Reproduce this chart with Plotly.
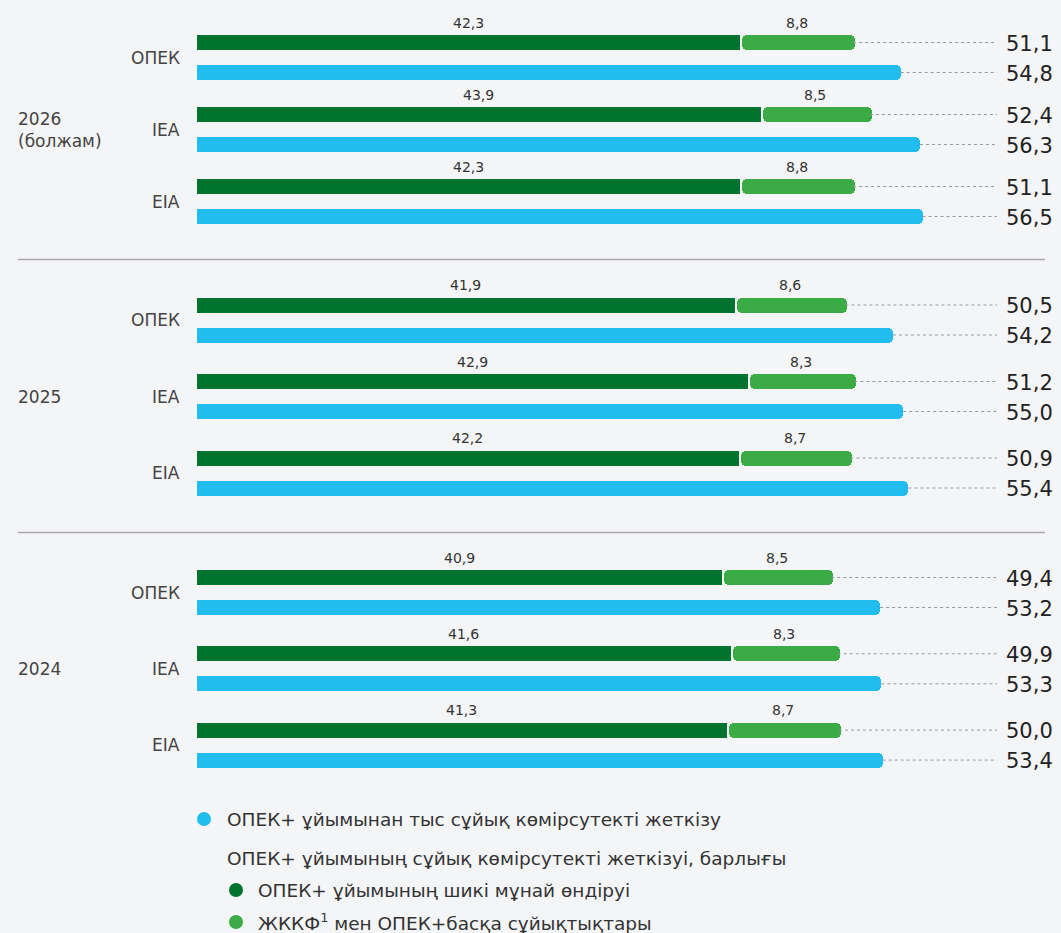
import plotly.graph_objects as go

# ---------------- data ----------------
years = ["2026<br>(болжам)", "2025", "2024"]
sources = ["ОПЕК", "IEA", "EIA"]
# OPEC+ crude oil production (dark green)
crude = [[42.3, 43.9, 42.3], [41.9, 42.9, 42.2], [40.9, 41.6, 41.3]]
# NGL & other OPEC+ liquids (light green)
ngl = [[8.8, 8.5, 8.8], [8.6, 8.3, 8.7], [8.5, 8.3, 8.7]]
# OPEC+ total labels
opec_total = [[51.1, 52.4, 51.1], [50.5, 51.2, 50.9], [49.4, 49.9, 50.0]]
# non-OPEC+ liquids supply (blue)
non_opec = [[54.8, 56.3, 56.5], [54.2, 55.0, 55.4], [53.2, 53.3, 53.4]]

legend_labels = [
    "ОПЕК+ ұйымынан тыс сұйық көмірсутекті жеткізу",
    "ОПЕК+ ұйымының сұйық көмірсутекті жеткізуі, барлығы",
    "ОПЕК+ ұйымының шикі мұнай өндіруі",
    "ЖККФ<sup>1</sup> мен ОПЕК+басқа сұйықтықтары",
]

# ---------------- style / layout ----------------
W, H = 1061, 933
BG = "#f4f5f7"
DARK = "#00732f"
LIGHT = "#3aab45"
BLUE = "#20bdee"
TXT = "#333333"
FONT = "DejaVu Sans"
X0_PX, SCALE = 196.5, 12.85         # pixel of zero, pixels per unit
LINE_END = (997 - X0_PX) / SCALE    # dotted leader end (data units)
group_top = [42.5, 305.0, 577.5]    # centre of first bar in each group (px)
row_pitch = [72.0, 76.5, 76.3]
BAR_GAP = 30.0
BAR_W = 15
separators = [259.5, 532.5]

fig = go.Figure()
ann = []
shapes = []

def fmt(v):
    return f"{v:.1f}".replace(".", ",")

for g in range(3):
    for s in range(3):
        yg = group_top[g] + s * row_pitch[g]
        yb = yg + BAR_GAP
        c, n, b = crude[g][s], ngl[g][s], non_opec[g][s]
        fig.add_trace(go.Bar(x=[c], y=[yg], orientation="h", width=BAR_W,
                             marker=dict(color=DARK, cornerradius=5, line=dict(width=0)),
                             hoverinfo="x", showlegend=False))
        fig.add_trace(go.Bar(x=[n], y=[yg], base=[c + 0.15], orientation="h", width=BAR_W,
                             marker=dict(color=LIGHT, cornerradius=5, line=dict(width=0)),
                             hoverinfo="x", showlegend=False))
        fig.add_trace(go.Bar(x=[b], y=[yb], orientation="h", width=BAR_W,
                             marker=dict(color=BLUE, cornerradius=5, line=dict(width=0)),
                             hoverinfo="x", showlegend=False))
        # dotted leaders
        for xv, yv in ((c + n, yg), (b, yb)):
            fig.add_trace(go.Scatter(x=[xv, LINE_END], y=[yv, yv], mode="lines",
                                     line=dict(color="#999999", width=1, dash="dot"),
                                     hoverinfo="skip", showlegend=False))
        # value labels above segments
        for xv, v in ((c / 2, c), (c + n / 2, n)):
            ann.append(dict(x=xv, y=yg - 10, text=fmt(v),
                            showarrow=False, yanchor="bottom", xanchor="center",
                            font=dict(size=14, color=TXT)))
        # totals on the right
        for yv, v in ((yg, opec_total[g][s]), (yb, b)):
            ann.append(dict(x=1004 / W, xref="paper", y=yv + 1, text=fmt(v),
                            showarrow=False, xanchor="left", yanchor="middle",
                            font=dict(size=21, color="#222222")))
        # source label
        ann.append(dict(x=182 / W, xref="paper", y=(yg + yb) / 2, text=sources[s],
                        showarrow=False, xanchor="right", yanchor="middle",
                        font=dict(size=17, color="#444444")))
    ycen = (group_top[g] + group_top[g] + 2 * row_pitch[g] + BAR_GAP) / 2
    ann.append(dict(x=16 / W, xref="paper", y=ycen, text=years[g], showarrow=False,
                    xanchor="left", yanchor="middle", align="left",
                    font=dict(size=17, color="#444444")))

for ys in separators:
    shapes.append(dict(type="line", xref="paper", x0=18 / W, x1=1045 / W, y0=ys, y1=ys,
                       line=dict(color="#aaaaaa", width=1.5)))

# legend (custom)
leg = [(204, 225, 819, BLUE, legend_labels[0]),
       (None, 225, 858, None, legend_labels[1]),
       (236, 256, 890, DARK, legend_labels[2]),
       (236, 256, 922, LIGHT, legend_labels[3])]
for dx, tx, yy, col, lab in leg:
    if dx is not None:
        shapes.append(dict(type="circle", xref="paper", yref="paper",
                           x0=(dx - 7) / W, x1=(dx + 7) / W,
                           y0=1 - (yy + 7) / H, y1=1 - (yy - 7) / H,
                           fillcolor=col, line=dict(width=0)))
    ann.append(dict(x=tx / W, xref="paper", y=yy, text=lab, showarrow=False,
                    xanchor="left", yanchor="middle", font=dict(size=18.5, color=TXT)))

fig.update_layout(
    width=W, height=H, barmode="overlay", bargap=0,
    paper_bgcolor=BG, plot_bgcolor=BG,
    margin=dict(l=0, r=0, t=0, b=0),
    font=dict(family=FONT, color=TXT),
    xaxis=dict(range=[-X0_PX / SCALE, (W - X0_PX) / SCALE], visible=False, fixedrange=True),
    yaxis=dict(range=[H, 0], visible=False, fixedrange=True),
    annotations=ann, shapes=shapes, showlegend=False,
)

fig.write_html("out.html", config={"displayModeBar": False},
               post_script="document.body.style.margin='0';document.body.style.overflow='hidden';"
                           "document.body.style.background='" + BG + "';")
